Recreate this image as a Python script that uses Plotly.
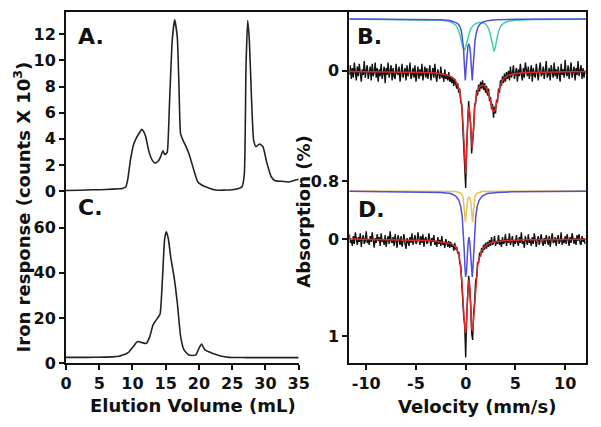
import plotly.graph_objects as go

# ---------------- Panel A : elution profile (counts x 10^3) ----------------
a_vol = [0, 2, 4, 6, 8, 8.5, 9, 9.3, 9.7, 10.2, 10.7, 11.1, 11.4, 11.7, 12.0, 12.5, 13.0, 13.4,
         13.9, 14.3, 14.6, 14.85, 15.05, 15.25, 15.6, 16.0, 16.35, 16.75, 17.0, 17.25, 17.6, 17.9,
         18.5, 19.25, 19.85, 20.5, 21.0, 22.5, 24, 25, 26, 26.5, 26.85, 27.1, 27.35, 27.6, 27.9,
         28.25, 28.6, 29.15, 29.65, 30.25, 30.9, 31.5, 32.5, 33.5, 35]
a_counts = [0.05, 0.07, 0.1, 0.12, 0.18, 0.2, 0.33, 0.9, 2.37, 3.6, 4.16, 4.5, 4.72, 4.55, 4.16, 3.0,
            2.35, 2.15, 2.3, 2.7, 3.09, 2.8, 2.85, 3.0, 6.97, 11.56, 13.1, 11.8, 8.2, 4.4, 3.9, 3.6,
            2.88, 1.6, 0.7, 0.45, 0.33, 0.08, 0.08, 0.1, 0.2, 0.33, 1.35, 9.5, 13.05, 11.56, 7.5,
            3.9, 3.4, 3.6, 3.4, 2.14, 1.1, 0.79, 0.75, 0.7, 0.9]

# ---------------- Panel C : elution profile ----------------
c_vol = [0, 3, 6, 7, 8, 8.5, 9, 9.5, 10.1, 10.75, 11.5, 12.1, 12.6, 13.1, 13.75, 14.15, 14.5, 14.85,
         15.1, 15.4, 15.75, 16.25, 16.75, 17.25, 17.75, 18.5, 19.5, 20.0, 20.4, 20.9, 22, 23.25,
         24.5, 27, 30, 35]
c_counts = [2.5, 2.5, 2.6, 2.7, 3.0, 3.5, 4.0, 5.0, 7.2, 9.5, 9.0, 8.7, 11.7, 16.9, 19.8, 21.7, 36.8,
            55.3, 58.2, 55, 47.1, 38.3, 26.5, 11.7, 5.8, 3.5, 3.5, 6.5, 8.4, 5.8, 4.3, 3.1, 2.5,
            2.4, 2.4, 2.4]

# ---------------- Mossbauer velocity channels ----------------
velocity = [
    -11.7, -11.6, -11.5, -11.4, -11.3, -11.2, -11.1, -11.0, -10.9, -10.8,
    -10.7, -10.6, -10.5, -10.4, -10.3, -10.2, -10.1, -10.0, -9.9, -9.8,
    -9.7, -9.6, -9.5, -9.4, -9.3, -9.2, -9.1, -9.0, -8.9, -8.8,
    -8.7, -8.6, -8.5, -8.4, -8.3, -8.2, -8.1, -8.0, -7.9, -7.8,
    -7.7, -7.6, -7.5, -7.4, -7.3, -7.2, -7.1, -7.0, -6.9, -6.8,
    -6.7, -6.6, -6.5, -6.4, -6.3, -6.2, -6.1, -6.0, -5.9, -5.8,
    -5.7, -5.6, -5.5, -5.4, -5.3, -5.2, -5.1, -5.0, -4.9, -4.8,
    -4.7, -4.6, -4.5, -4.4, -4.3, -4.2, -4.1, -4.0, -3.9, -3.8,
    -3.7, -3.6, -3.5, -3.4, -3.3, -3.2, -3.1, -3.0, -2.9, -2.8,
    -2.7, -2.6, -2.5, -2.4, -2.3, -2.2, -2.1, -2.0, -1.9, -1.8,
    -1.7, -1.6, -1.5, -1.4, -1.3, -1.2, -1.1, -1.0, -0.9, -0.8,
    -0.7, -0.6, -0.5, -0.4, -0.3, -0.2, -0.1, 0.0, 0.1, 0.2,
    0.3, 0.4, 0.5, 0.6, 0.7, 0.8, 0.9, 1.0, 1.1, 1.2,
    1.3, 1.4, 1.5, 1.6, 1.7, 1.8, 1.9, 2.0, 2.1, 2.2,
    2.3, 2.4, 2.5, 2.6, 2.7, 2.8, 2.9, 3.0, 3.1, 3.2,
    3.3, 3.4, 3.5, 3.6, 3.7, 3.8, 3.9, 4.0, 4.1, 4.2,
    4.3, 4.4, 4.5, 4.6, 4.7, 4.8, 4.9, 5.0, 5.1, 5.2,
    5.3, 5.4, 5.5, 5.6, 5.7, 5.8, 5.9, 6.0, 6.1, 6.2,
    6.3, 6.4, 6.5, 6.6, 6.7, 6.8, 6.9, 7.0, 7.1, 7.2,
    7.3, 7.4, 7.5, 7.6, 7.7, 7.8, 7.9, 8.0, 8.1, 8.2,
    8.3, 8.4, 8.5, 8.6, 8.7, 8.8, 8.9, 9.0, 9.1, 9.2,
    9.3, 9.4, 9.5, 9.6, 9.7, 9.8, 9.9, 10.0, 10.1, 10.2,
    10.3, 10.4, 10.5, 10.6, 10.7, 10.8, 10.9, 11.0, 11.1, 11.2,
    11.3, 11.4, 11.5, 11.6, 11.7, 11.8, 11.9, 12.0]

# Panel B measured absorption (%)
b_absorption = [
    0.03, -0.04, 0.06, -0.02, 0.05, -0.06, 0.01, 0.07, -0.03, 0.04,
    -0.05, 0.02, 0.08, -0.01, 0.03, -0.07, 0.05, 0.00, -0.04, 0.06,
    0.02, -0.03, 0.07, -0.05, 0.04, 0.01, -0.06, 0.05, -0.02, 0.08,
    -0.01, 0.04, -0.05, 0.06, 0.02, -0.03, 0.09, -0.02, 0.03, -0.06,
    0.05, 0.01, -0.04, 0.07, -0.02, 0.04, 0.06, -0.05, 0.02, 0.03,
    -0.03, 0.08, 0.00, -0.05, 0.05, 0.02, -0.02, 0.07, -0.04, 0.04,
    0.01, -0.06, 0.06, 0.03, -0.02, 0.05, -0.04, 0.08, 0.00, -0.03,
    0.06, -0.01, 0.04, -0.05, 0.07, 0.02, -0.03, 0.05, -0.02, 0.06,
    0.00, -0.04, 0.07, 0.03, -0.02, 0.05, -0.05, 0.04, 0.08, -0.01,
    0.03, 0.06, -0.03, 0.05, 0.02, 0.08, -0.01, 0.06, 0.03, 0.07,
    0.01, 0.08, 0.04, 0.09, 0.05, 0.11, 0.06, 0.10, 0.13, 0.09,
    0.16, 0.13, 0.23, 0.24, 0.39, 0.44, 0.66, 0.85, 0.55, 0.40,
    0.22, 0.33, 0.38, 0.60, 0.50, 0.42, 0.24, 0.24, 0.14, 0.18,
    0.10, 0.15, 0.08, 0.13, 0.07, 0.14, 0.09, 0.16, 0.11, 0.18,
    0.13, 0.22, 0.19, 0.28, 0.24, 0.34, 0.26, 0.31, 0.21, 0.23,
    0.13, 0.16, 0.07, 0.11, 0.04, 0.09, 0.02, 0.08, 0.01, 0.06,
    0.00, 0.07, -0.03, 0.05, 0.02, -0.04, 0.06, 0.01, -0.02, 0.08,
    -0.01, 0.04, -0.05, 0.03, 0.07, -0.02, 0.05, -0.06, 0.02, 0.04,
    -0.03, 0.06, 0.01, -0.04, 0.08, -0.02, 0.03, 0.05, -0.05, 0.02,
    0.07, -0.01, -0.06, 0.04, 0.02, -0.03, 0.06, 0.00, -0.07, 0.05,
    0.03, -0.02, 0.07, -0.04, 0.01, 0.05, -0.06, 0.04, -0.01, 0.06,
    -0.03, 0.02, 0.08, -0.05, 0.03, -0.01, 0.05, -0.08, 0.02, 0.04,
    -0.04, 0.06, 0.00, -0.06, 0.05, 0.02, -0.03, 0.07, -0.02, 0.03,
    -0.07, 0.04, 0.01, -0.04, 0.06, -0.02, 0.05, 0.00]

# Panel D measured absorption (%)
d_absorption = [
    -0.05, 0.04, 0.01, 0.07, -0.03, 0.05, -0.07, 0.02, 0.06, -0.02,
    0.03, -0.06, 0.08, 0.00, -0.04, 0.05, 0.02, -0.08, 0.04, 0.01,
    0.06, -0.03, 0.03, -0.07, 0.05, 0.09, -0.01, 0.04, -0.05, 0.02,
    -0.02, 0.07, -0.06, 0.03, 0.00, 0.06, -0.04, 0.08, 0.01, -0.03,
    0.05, -0.08, 0.02, 0.04, -0.02, 0.07, -0.05, 0.01, 0.09, -0.04,
    0.03, 0.06, -0.03, 0.08, 0.02, -0.05, 0.05, 0.10, -0.01, 0.04,
    0.07, -0.02, 0.04, -0.06, 0.06, 0.01, -0.04, 0.05, 0.03, -0.07,
    0.02, 0.06, -0.03, 0.04, -0.05, 0.08, 0.00, -0.02, 0.05, 0.03,
    -0.06, 0.04, 0.07, -0.01, 0.03, -0.04, 0.06, 0.02, 0.08, -0.02,
    0.05, 0.01, 0.07, -0.03, 0.06, 0.03, 0.09, 0.00, 0.05, 0.08,
    0.02, 0.09, 0.03, 0.08, 0.06, 0.12, 0.04, 0.11, 0.08, 0.15,
    0.13, 0.25, 0.27, 0.46, 0.54, 0.80, 0.88, 1.22, 0.80, 0.62,
    0.38, 0.51, 0.66, 0.97, 1.04, 0.76, 0.65, 0.43, 0.39, 0.24,
    0.25, 0.14, 0.18, 0.09, 0.14, 0.06, 0.11, 0.04, 0.10, 0.03,
    0.08, 0.01, 0.07, -0.02, 0.06, 0.04, -0.03, 0.07, 0.02, 0.05,
    -0.04, 0.06, 0.01, 0.08, -0.02, 0.05, 0.03, -0.05, 0.07, 0.00,
    0.04, -0.06, 0.06, 0.02, -0.03, 0.08, 0.01, 0.05, -0.04, 0.03,
    0.07, -0.02, 0.04, -0.07, 0.05, 0.02, 0.09, -0.03, 0.03, 0.06,
    -0.05, 0.04, 0.00, 0.07, -0.02, 0.05, -0.06, 0.03, 0.08, 0.01,
    -0.03, 0.06, 0.02, -0.05, 0.04, 0.07, -0.01, 0.05, -0.04, 0.02,
    0.06, -0.03, 0.08, 0.01, -0.06, 0.04, 0.03, -0.02, 0.07, 0.00,
    -0.04, 0.05, 0.02, -0.07, 0.06, 0.01, 0.04, -0.03, 0.05, -0.05,
    0.03, 0.07, -0.02, 0.04, -0.06, 0.02, 0.05, -0.01, 0.06, -0.04,
    0.02, -0.05, 0.04, 0.06, -0.03, 0.03, -0.01, 0.05]

# Panel B fits
b_fit_v = [-11.7, -6, -4, -3, -2.3, -1.8, -1.5, -1.2, -1.0, -0.85, -0.7, -0.58, -0.47, -0.37, -0.27,
           -0.18, -0.09, 0.0, 0.08, 0.16, 0.24, 0.33, 0.42, 0.5, 0.58, 0.66, 0.74, 0.83, 0.93, 1.05,
           1.2, 1.4, 1.65, 1.9, 2.1, 2.3, 2.45, 2.6, 2.72, 2.85, 2.98, 3.1, 3.25, 3.4, 3.6, 3.85,
           4.2, 4.8, 6, 8, 12.1]
b_fit = [0.005, 0.008, 0.012, 0.017, 0.024, 0.033, 0.042, 0.057, 0.075, 0.095, 0.125, 0.16, 0.21,
         0.28, 0.38, 0.5, 0.64, 0.745, 0.62, 0.42, 0.3, 0.26, 0.31, 0.42, 0.53, 0.56, 0.47, 0.34,
         0.25, 0.19, 0.145, 0.115, 0.105, 0.11, 0.13, 0.165, 0.205, 0.25, 0.285, 0.295, 0.28, 0.24,
         0.18, 0.125, 0.085, 0.055, 0.035, 0.022, 0.012, 0.008, 0.005]
b_blue_v = [-11.7, -4, -2.5, -1.6, -1.2, -0.9, -0.7, -0.55, -0.42, -0.32, -0.22, -0.13, -0.04, 0.05,
            0.14, 0.23, 0.31, 0.39, 0.48, 0.57, 0.66, 0.75, 0.84, 0.94, 1.06, 1.2, 1.4, 1.7, 2.2,
            3, 5, 12.1]
b_blue = [-0.375, -0.373, -0.37, -0.364, -0.357, -0.347, -0.333, -0.315, -0.285, -0.24, -0.165,
          -0.04, 0.07, -0.03, -0.13, -0.18, -0.195, -0.18, -0.13, -0.03, 0.07, -0.03, -0.13, -0.22,
          -0.27, -0.31, -0.335, -0.352, -0.363, -0.369, -0.373, -0.375]
b_cyan_v = [-11.7, -4, -2.5, -1.8, -1.4, -1.1, -0.9, -0.7, -0.55, -0.4, -0.3, -0.17, -0.05, 0.05,
            0.2, 0.35, 0.5, 0.7, 1.0, 1.3, 1.6, 1.9, 2.1, 2.3, 2.45, 2.6, 2.72, 2.85, 2.98, 3.1,
            3.25, 3.4, 3.6, 3.9, 4.3, 5, 7, 12.1]
b_cyan = [-0.375, -0.372, -0.366, -0.36, -0.35, -0.335, -0.32, -0.29, -0.255, -0.2, -0.17, -0.145,
          -0.16, -0.19, -0.235, -0.27, -0.3, -0.325, -0.342, -0.35, -0.35, -0.343, -0.33, -0.305,
          -0.27, -0.22, -0.17, -0.14, -0.17, -0.22, -0.27, -0.305, -0.33, -0.348, -0.358, -0.365,
          -0.371, -0.374]

# Panel D fits
d_fit_v = [-11.7, -6, -4, -3, -2.5, -2.0, -1.7, -1.5, -1.3, -1.1, -1.0, -0.9, -0.8, -0.7, -0.6, -0.5,
           -0.4, -0.3, -0.2, -0.1, 0.0, 0.1, 0.2, 0.3, 0.4, 0.5, 0.6, 0.7, 0.8, 0.9, 1.0, 1.1, 1.2,
           1.3, 1.4, 1.5, 1.6, 1.8, 2.0, 2.2, 2.5, 3, 4, 6, 12.1]
d_fit = [0.0, 0.008, 0.015, 0.022, 0.028, 0.035, 0.04, 0.047, 0.057, 0.073, 0.085, 0.1, 0.125, 0.16,
         0.21, 0.29, 0.41, 0.57, 0.76, 0.91, 0.97, 0.84, 0.58, 0.42, 0.47, 0.70, 0.92, 0.95, 0.80,
         0.62, 0.47, 0.36, 0.28, 0.22, 0.18, 0.15, 0.125, 0.09, 0.07, 0.055, 0.04, 0.027, 0.015,
         0.008, 0.003]
d_blue_v = [-11.7, -4, -2.5, -1.5, -1.0, -0.7, -0.5, -0.35, -0.25, -0.15, -0.07, 0.0, 0.08, 0.16,
            0.25, 0.33, 0.41, 0.5, 0.58, 0.66, 0.73, 0.81, 0.91, 1.01, 1.16, 1.36, 1.66, 2.16, 3.16,
            4.66, 12.1]
d_blue = [-0.493, -0.487, -0.48, -0.47, -0.444, -0.402, -0.337, -0.231, -0.1, 0.11, 0.3, 0.39, 0.34,
          0.16, 0.03, -0.02, 0.03, 0.16, 0.34, 0.39, 0.3, 0.11, -0.1, -0.231, -0.337, -0.402,
          -0.444, -0.47, -0.48, -0.487, -0.493]
d_yellow_v = [-11.7, -3, -1.0, -0.5, -0.35, -0.25, -0.15, -0.08, -0.03, 0.04, 0.12, 0.22, 0.33, 0.44,
              0.54, 0.62, 0.69, 0.74, 0.81, 0.91, 1.01, 1.16, 1.66, 3.66, 12.1]
d_yellow = [-0.495, -0.494, -0.49, -0.473, -0.453, -0.419, -0.335, -0.225, -0.176, -0.254, -0.362,
            -0.42, -0.433, -0.42, -0.362, -0.254, -0.176, -0.225, -0.335, -0.419, -0.453, -0.473,
            -0.49, -0.494, -0.495]

# tick labels
elution_ticks = [0, 5, 10, 15, 20, 25, 30, 35]
a_ticks = [0, 2, 4, 6, 8, 10, 12]
c_ticks = [0, 20, 40, 60]
vel_ticks = [-10, -5, 0, 5, 10]
vel_ticktext = ["-10", "-5", "0", "5", "10"]

FONT = "DejaVu Sans"
INK = "#111111"
RED = "#e02828"
BLUE = "#4f4fdc"
CYAN = "#3fcfae"
YELLOW = "#e6c25a"

fig = go.Figure()
fig.add_trace(go.Scatter(x=a_vol, y=a_counts, mode="lines", xaxis="x", yaxis="y",
                         line=dict(color="#222222", width=1.6, shape="spline", smoothing=0.5)))
fig.add_trace(go.Scatter(x=c_vol, y=c_counts, mode="lines", xaxis="x2", yaxis="y2",
                         line=dict(color="#222222", width=1.6, shape="spline", smoothing=0.5)))

fig.add_trace(go.Scatter(x=b_cyan_v, y=b_cyan, mode="lines", xaxis="x3", yaxis="y3",
                         line=dict(color=CYAN, width=1.5)))
fig.add_trace(go.Scatter(x=b_blue_v, y=b_blue, mode="lines", xaxis="x3", yaxis="y3",
                         line=dict(color=BLUE, width=1.5)))
fig.add_trace(go.Scatter(x=velocity, y=b_absorption, mode="lines", xaxis="x3", yaxis="y3",
                         line=dict(color=INK, width=1.4)))
fig.add_trace(go.Scatter(x=b_fit_v, y=b_fit, mode="lines", xaxis="x3", yaxis="y3",
                         line=dict(color=RED, width=1.5)))

fig.add_trace(go.Scatter(x=d_yellow_v, y=d_yellow, mode="lines", xaxis="x4", yaxis="y4",
                         line=dict(color=YELLOW, width=1.5)))
fig.add_trace(go.Scatter(x=d_blue_v, y=d_blue, mode="lines", xaxis="x4", yaxis="y4",
                         line=dict(color=BLUE, width=1.5)))
fig.add_trace(go.Scatter(x=velocity, y=d_absorption, mode="lines", xaxis="x4", yaxis="y4",
                         line=dict(color=INK, width=1.4)))
fig.add_trace(go.Scatter(x=d_fit_v, y=d_fit, mode="lines", xaxis="x4", yaxis="y4",
                         line=dict(color=RED, width=1.5)))

tickfont = dict(family=FONT, size=16, color=INK, weight="bold")
base = dict(showgrid=False, zeroline=False, showline=True, linecolor=INK, linewidth=2,
            ticks="outside", ticklen=5, tickwidth=2, tickcolor=INK, tickfont=tickfont)

L_RIGHT = 0.4474
R_LEFT = 0.5449

fig.update_layout(
    width=593, height=419,
    margin=dict(l=58, r=12, t=4, b=64),
    paper_bgcolor="white", plot_bgcolor="rgba(0,0,0,0)",
    showlegend=False,
    xaxis=dict(base, domain=[0, R_LEFT], range=[0, 42.66], anchor="y", side="top",
               ticks="", showticklabels=False),
    yaxis=dict(base, domain=[0.486, 1], range=[-0.1, 13.7], anchor="x", tickvals=a_ticks),
    xaxis2=dict(base, domain=[0, L_RIGHT], range=[0, 35], anchor="y2", tickvals=elution_ticks),
    yaxis2=dict(base, domain=[0, 0.487], range=[0, 75.8], anchor="x2", tickvals=c_ticks),
    xaxis3=dict(base, domain=[R_LEFT, 1], range=[-11.7, 12.1], anchor="y3", side="top",
                ticks="", showticklabels=False),
    yaxis3=dict(base, domain=[0.487, 1], range=[0.8796, -0.4257], anchor="x3", mirror=True,
                tickvals=[0, 0.8], ticktext=["0", "0.8"]),
    xaxis4=dict(base, domain=[R_LEFT, 1], range=[-11.7, 12.1], anchor="y4",
                tickvals=vel_ticks, ticktext=vel_ticktext),
    yaxis4=dict(base, domain=[0, 0.504], range=[1.278, -0.546], anchor="x4", mirror=True,
                tickvals=[0, 1], ticktext=["0", "1"]),
)

title_font = dict(family=FONT, size=18, color=INK, weight="bold")
label_font = dict(family=FONT, size=22, color=INK, weight="bold")
ann = [
    dict(text="Iron response (counts X 10<sup>3</sup>)", x=-0.0841, y=0.444, textangle=-90,
         font=title_font),
    dict(text="Elution Volume (mL)", x=0.2434, y=-0.1197, font=title_font),
    dict(text="Velocity (mm/s)", x=0.7897, y=-0.1245, font=title_font),
    dict(text="Absorption (%)", x=0.455, y=0.43, textangle=-90, font=title_font),
    dict(text="A.", x=0.0191, y=0.9288, xanchor="left", font=label_font),
    dict(text="B.", x=0.5564, y=0.9288, xanchor="left", font=label_font),
    dict(text="C.", x=0.0191, y=0.4416, xanchor="left", font=label_font),
    dict(text="D.", x=0.5583, y=0.4373, xanchor="left", font=label_font),
]
for a in ann:
    a.setdefault("xanchor", "center")
    a.update(xref="paper", yref="paper", yanchor="middle", showarrow=False)
fig.update_layout(annotations=ann)

fig.write_html("out.html")
